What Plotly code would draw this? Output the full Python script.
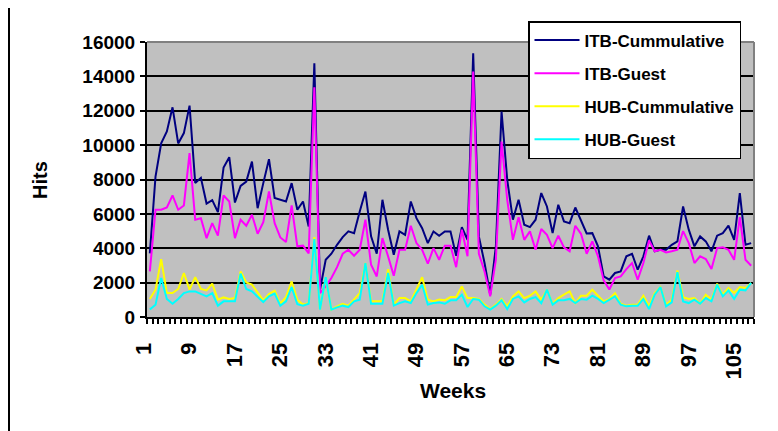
import plotly.graph_objects as go

# ── データ ─────────────────────────────────────────
weeks = list(range(1, 108))
week_labels = [str(w) for w in range(1, 108, 8)]

itb_cumulative = [
    3700, 8170, 10100, 10800, 12200, 10100, 10700, 12300, 7800, 8100,
    6600, 6800, 6100, 8700, 9300, 6660, 7630, 7880, 9040, 6330,
    7790, 9180, 6920, 6820, 6720, 7790, 6240, 6720, 5270,
    14760, 1590, 3330, 3680, 4200, 4650, 4980, 4880, 6140, 7300,
    4690, 3680, 6820, 5080, 3620, 4980, 4780, 6720, 5750, 5170,
    4300, 4980, 4730, 4980, 4980, 3560, 5230, 4490, 15340, 4690,
    3140, 1300, 4110, 11950, 7980, 5660, 6820, 5370, 5230,
    5660, 7210, 6430, 4880, 6530, 5560, 5460, 6370, 5560, 4860,
    4880, 4110, 2360, 2170, 2560, 2650, 3530, 3680, 2750, 3530,
    4730, 3820, 3910, 3910, 4200, 4400, 6430, 5080, 4110,
    4690, 4400, 3820, 4730, 4880, 5310, 4490, 7210, 4200, 4300,
]
itb_guest = [
    2650, 6240, 6240, 6370, 7070, 6240, 6490, 9530, 5660, 5750,
    4590, 5460, 4730, 7070, 6720, 4590, 5660, 5310, 5950, 4840,
    5520, 7300, 5460, 4630, 4360, 6490, 4110, 4150, 3700,
    13370, 1390, 1780, 2270, 2900, 3680, 3910, 3560, 3910, 5660,
    3040, 2360, 4590, 3530, 2400, 3910, 3910, 5310, 4300, 3910,
    3100, 4010, 3330, 4150, 4150, 2900, 5080, 3530, 14280, 3680,
    2650, 1200, 3330, 10210, 6820, 4490, 5810, 4490, 4980,
    3910, 5120, 4780, 4010, 4730, 4050, 3820, 5310, 4840, 3680,
    4400, 3530, 2130, 1600, 2270, 2360, 2790, 3140, 2170, 3140,
    4450, 3820, 3910, 3760, 3820, 3910, 5000, 4300, 3140,
    3530, 3370, 2790, 4010, 4050, 3910, 3330, 5810, 3330, 2980,
]
hub_cumulative = [
    1050, 1590, 3370, 1390, 1390, 1630, 2560, 1590, 2320, 1630,
    1550, 1940, 1010, 1140, 1050, 1100, 2650, 2010, 1880, 1390,
    970, 1340, 1530, 770, 1160, 2070, 1000, 720, 810,
    4650, 430, 2270, 430, 620, 770, 660, 1050, 1390, 3140,
    910, 910, 910, 2790, 720, 1100, 1100, 910, 1590, 2320,
    1010, 910, 1010, 970, 1160, 1160, 1780, 1100, 1100, 1050,
    720, 460, 720, 1050, 620, 1200, 1490, 1100, 1240,
    1490, 1010, 1590, 770, 1100, 1300, 1490, 810, 1240, 1240,
    1590, 1240, 910, 1050, 1390, 770, 660, 720, 720, 1240,
    620, 1390, 1740, 720, 1010, 2710, 1150, 1050, 1100,
    770, 1300, 1010, 1940, 1300, 1690, 1400, 1740, 1690, 1980,
]
hub_guest = [
    430, 720, 2270, 1050, 770, 1050, 1390, 1490, 1490, 1360,
    1200, 1390, 660, 910, 910, 910, 2520, 1630, 1490, 1200,
    870, 1200, 1360, 660, 910, 1740, 740, 660, 770,
    4530, 430, 2320, 430, 560, 660, 580, 910, 1010, 3140,
    770, 770, 770, 2560, 660, 810, 910, 810, 1390, 1880,
    720, 810, 850, 770, 970, 970, 1300, 580, 1050, 1010,
    620, 430, 660, 970, 460, 1050, 1200, 850, 1050,
    1160, 810, 1590, 720, 970, 970, 1050, 810, 1050, 1010,
    1240, 1050, 810, 1000, 1200, 720, 620, 660, 660, 1050,
    460, 1300, 1740, 620, 850, 2600, 900, 810, 1010,
    770, 1100, 910, 1880, 1200, 1550, 1050, 1590, 1550, 1980,
]

series = [
    ("ITB-Cummulative", itb_cumulative, "#000080"),
    ("ITB-Guest", itb_guest, "#FF00FF"),
    ("HUB-Cummulative", hub_cumulative, "#FFFF00"),
    ("HUB-Guest", hub_guest, "#00FFFF"),
]

FONT = "Liberation Sans, Arial, sans-serif"

# ページの body には 8px の余白があるので、図をその分小さくする
PX, PY = 147, 317   # プロットエリア左下（ページ座標）
PW, PH = 607, 275


def px_x(x):
    return (x - PX) / PW


def px_y(y):
    return (PY - y) / PH


fig = go.Figure()
for i, (name, vals, color) in enumerate(series):
    fig.add_trace(go.Scatter(
        x=weeks, y=vals, mode="lines", name=name,
        legendgroup=f"g{i}",
        line=dict(color=color, width=2),
    ))

fig.update_layout(
    width=770, height=423,
    margin=dict(l=139, r=24, t=34, b=114),
    paper_bgcolor="white",
    plot_bgcolor="#C0C0C0",
    font=dict(family=FONT, color="black", size=18, weight="bold"),
    showlegend=True,
    legend=dict(
        x=px_x(528), y=px_y(21),
        xanchor="left", yanchor="top",
        bgcolor="white", bordercolor="black", borderwidth=1.5,
        font=dict(family=FONT, size=17, color="black", weight="bold"),
        tracegroupgap=8,
        itemwidth=45,
    ),
    xaxis=dict(
        range=[0.5, 107.5],
        tickmode="array",
        tickvals=list(range(1, 108, 8)),
        ticktext=week_labels,
        tickangle=-90,
        ticks="",
        ticklabelstandoff=15,
        ticklabelshift=-6,
        tickfont=dict(family=FONT, size=22, weight="bold"),
        showgrid=False, zeroline=False,
        showline=True, linecolor="black", linewidth=2,
        minor=dict(tick0=0.5, dtick=1, ticks="outside", ticklen=5,
                   tickwidth=1.5, tickcolor="black", showgrid=False),
    ),
    yaxis=dict(
        range=[0, 16000],
        tickmode="linear", tick0=0, dtick=2000, tickformat="d",
        ticks="outside", ticklen=5, tickwidth=2, tickcolor="black",
        ticklabelstandoff=1,
        tickfont=dict(family=FONT, size=19, weight="bold"),
        showgrid=True, gridcolor="black", gridwidth=2,
        zeroline=False,
        showline=True, linecolor="black", linewidth=2,
    ),
    shapes=[
        # プロットエリア枠（上・右の灰色線）
        dict(type="line", xref="paper", yref="paper", x0=0, x1=1, y0=1, y1=1,
             line=dict(color="#808080", width=2)),
        dict(type="line", xref="paper", yref="paper", x0=1, x1=1, y0=0, y1=1,
             line=dict(color="#808080", width=2)),
        # チャートエリア左枠
        dict(type="line", xref="paper", yref="paper",
             x0=px_x(9), x1=px_x(9), y0=px_y(8), y1=px_y(431),
             line=dict(color="black", width=2)),
    ],
    annotations=[
        dict(text="Hits", xref="paper", yref="paper",
             x=px_x(40), y=px_y(180), textangle=-90,
             xanchor="center", yanchor="middle",
             showarrow=False, font=dict(family=FONT, size=20, weight="bold")),
        dict(text="Weeks", xref="paper", yref="paper",
             x=px_x(453), y=px_y(390),
             xanchor="center", yanchor="middle",
             showarrow=False, font=dict(family=FONT, size=21, weight="bold")),
    ],
)

fig.write_html("out.html")
